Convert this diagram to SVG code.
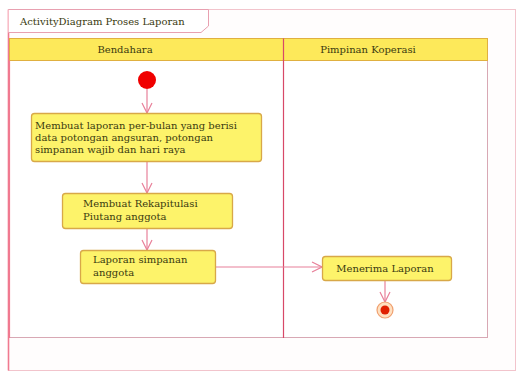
<svg xmlns="http://www.w3.org/2000/svg" width="520" height="372" viewBox="0 0 520 372">
  <defs>
    <marker id="open" viewBox="0 0 12 12" refX="11" refY="6" markerWidth="12" markerHeight="12" markerUnits="userSpaceOnUse" orient="auto">
      <path d="M1,1 L11,6 L1,11" fill="none" stroke="#e8809a" stroke-width="1.2"/>
    </marker>
  </defs>
  <style>
    text { font-family: "DejaVu Serif", "Liberation Serif", serif; fill: #3a3a10; }
    .lbl { font-size: 10px; }
    .hdr { font-size: 10px; text-anchor: middle; }
    .action { fill: #fdf36a; stroke: #d8a848; stroke-width: 1.3; }
    .head { fill: #fde95a; stroke: #e0b040; stroke-width: 1; }
    .edge { fill: none; stroke: #e8809a; stroke-width: 1.2; marker-end: url(#open); }
  </style>

  <rect width="520" height="372" fill="#ffffff"/>

  <!-- outer frame with name tab -->
  <g id="frame">
    <rect x="8.5" y="9.5" width="507" height="361" fill="#fffdfd" stroke="#f2c4cc" stroke-width="1"/>
    <line x1="8.5" y1="9.5" x2="8.5" y2="370.5" stroke="#f07a90" stroke-width="1.6"/>
    <path d="M8.5,9.5 H208.5 V26 L201,32.5 H8.5" fill="#ffffff" stroke="#e8a0b0" stroke-width="1"/>
    <text x="20" y="25" class="lbl">ActivityDiagram Proses Laporan</text>
  </g>

  <!-- swimlanes -->
  <g id="lanes">
    <rect x="9.5" y="38.5" width="478" height="299" fill="#ffffff" stroke="#d8a8b4" stroke-width="1"/>
    <rect class="head" x="9.5" y="38.5" width="274" height="22"/>
    <rect class="head" x="283.5" y="38.5" width="204" height="22"/>
    <line x1="283.5" y1="38.5" x2="283.5" y2="338" stroke="#d84868" stroke-width="1.2"/>
    <line x1="9.5" y1="60.5" x2="9.5" y2="338" stroke="#f07a90" stroke-width="1.2"/>
    <text x="125" y="53" class="hdr">Bendahara</text>
    <text x="368" y="53" class="hdr">Pimpinan Koperasi</text>
  </g>

  <!-- connectors -->
  <g id="edges">
    <line class="edge" x1="147" y1="89" x2="147" y2="113"/>
    <line class="edge" x1="147" y1="162" x2="147" y2="193"/>
    <line class="edge" x1="147" y1="228" x2="147" y2="250"/>
    <line class="edge" x1="215" y1="267" x2="322" y2="267"/>
    <line class="edge" x1="385" y1="280" x2="385" y2="302"/>
  </g>

  <g id="start">
    <circle cx="147" cy="80" r="9" fill="#f00000"/>
  </g>

  <g id="a1">
    <rect class="action" x="31.5" y="113.5" width="230" height="48" rx="3"/>
    <text x="35" y="129" class="lbl">Membuat laporan per-bulan yang berisi</text>
    <text x="35" y="141" class="lbl">data potongan angsuran, potongan</text>
    <text x="35" y="153" class="lbl">simpanan wajib dan hari raya</text>
  </g>

  <g id="a2">
    <rect class="action" x="62.5" y="193.5" width="170" height="35" rx="3"/>
    <text x="83" y="207" class="lbl">Membuat Rekapitulasi</text>
    <text x="83" y="220" class="lbl">Piutang anggota</text>
  </g>

  <g id="a3">
    <rect class="action" x="80.5" y="250.5" width="135" height="33" rx="3"/>
    <text x="93" y="263" class="lbl">Laporan simpanan</text>
    <text x="93" y="276" class="lbl">anggota</text>
  </g>

  <g id="a4">
    <rect class="action" x="322.5" y="256.5" width="129" height="24" rx="3"/>
    <text x="385" y="272" class="lbl" text-anchor="middle">Menerima Laporan</text>
  </g>

  <g id="end">
    <circle cx="385" cy="310" r="8" fill="#ffe0c0" stroke="#f0a070" stroke-width="1.2"/>
    <circle cx="385" cy="310" r="4.5" fill="#e02000"/>
  </g>
</svg>
